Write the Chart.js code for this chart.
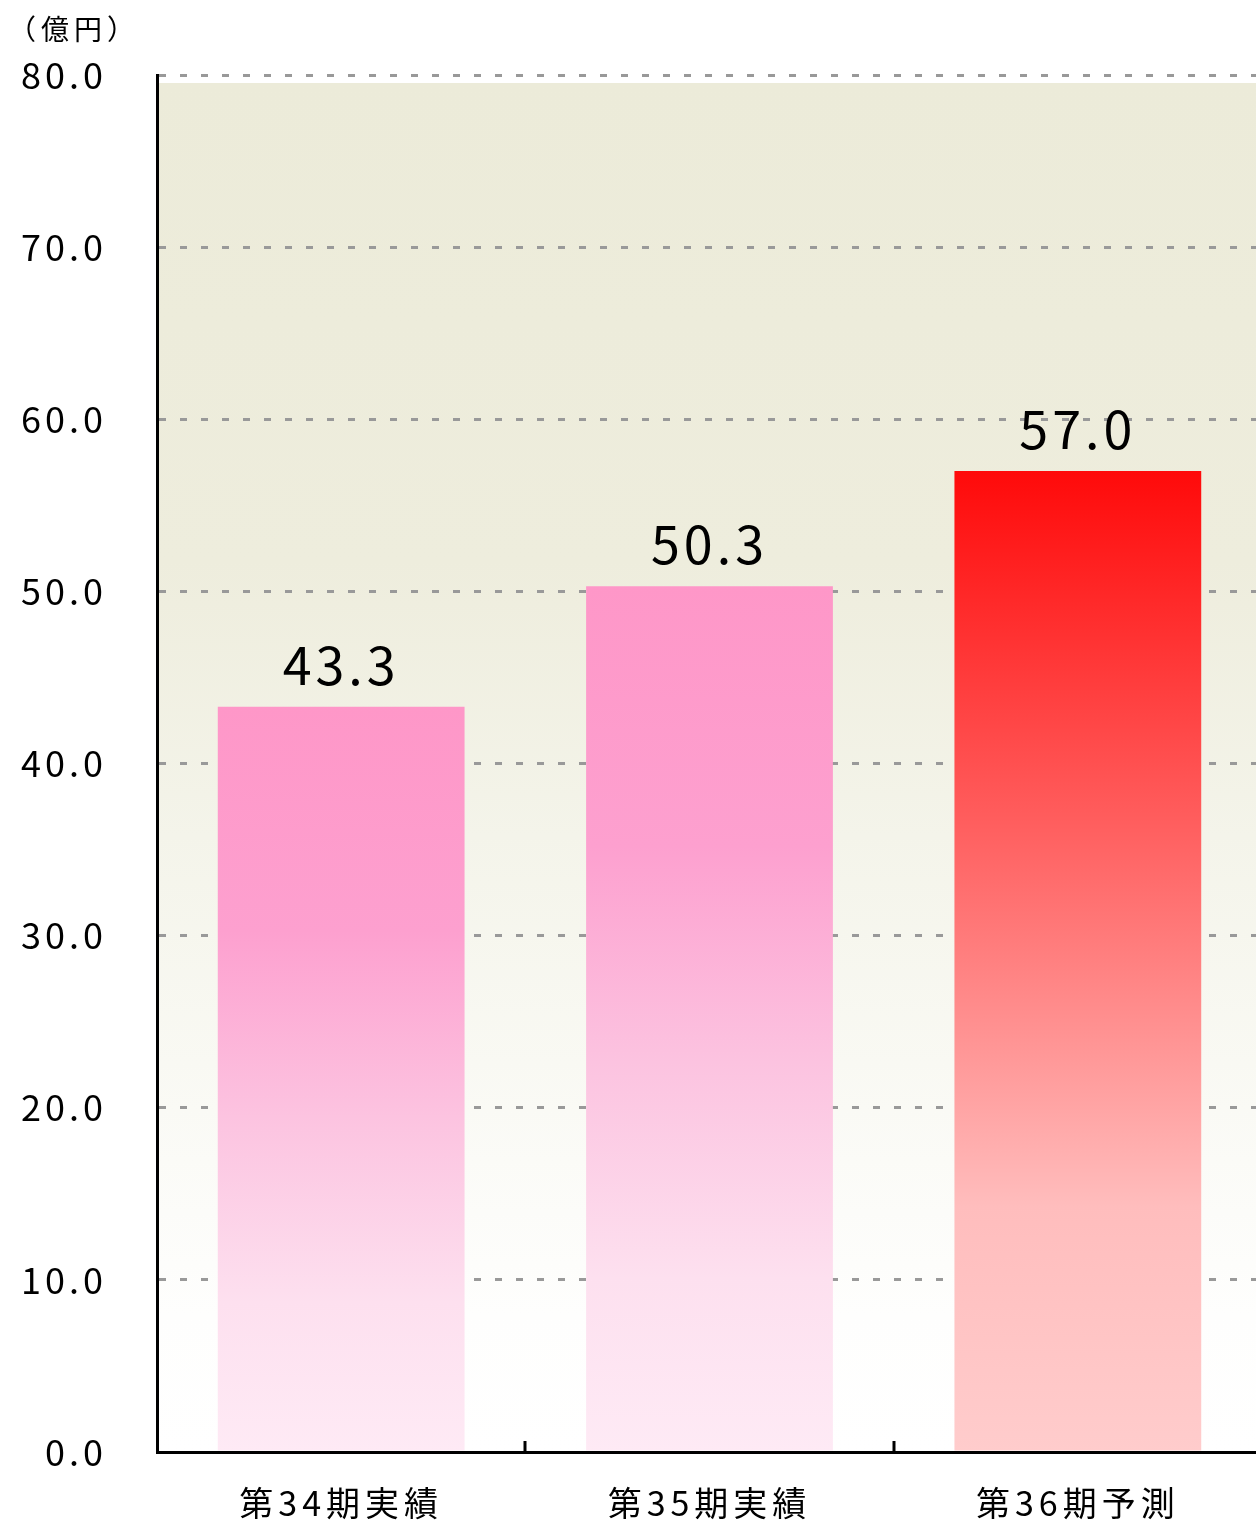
<!DOCTYPE html>
<html lang="ja">
<head>
<meta charset="utf-8">
<title>売上高推移</title>
<script src="https://cdn.jsdelivr.net/npm/chart.js@4.4.1/dist/chart.umd.min.js"></script>
<style>
  html, body { margin: 0; padding: 0; background: #fff; overflow: hidden; }
  #wrap { width: 1256px; height: 1526px; overflow: hidden; }
  canvas { display: block; }
</style>
</head>
<body>
<div id="wrap"><canvas id="salesChart" width="1262" height="1526"></canvas></div>
<script>
// ── DATA ──────────────────────────────────────
const categories = ['第34期実績', '第35期実績', '第36期予測'];
const salesValues = [43.3, 50.3, 57.0];
const yTicks = [0, 10, 20, 30, 40, 50, 60, 70, 80];
const unitLabel = '（億円）';

// ── STYLE ─────────────────────────────────────
const FONT = '"Noto Sans CJK JP", "Noto Sans", sans-serif';
const barStops = [
    [[0, '#fe97c8'], [0.3, '#fda0cf'], [0.55, '#fcc3e0'], [0.8, '#fde0ef'], [1, '#feeaf5']],
    [[0, '#fe97c8'], [0.3, '#fda0cf'], [0.55, '#fcc3e0'], [0.8, '#fde0ef'], [1, '#feeaf5']],
    [[0, '#ff0a0a'], [0.35, '#ff5c5c'], [0.75, '#ffbdbd'], [1, '#ffcccc']]
];
const bgStops = [[0, '#ecebd9'], [0.35, '#eeeddd'], [0.55, '#f4f4ea'], [0.75, '#fafaf5'], [0.9, '#fefefd'], [1, '#ffffff']];

function barGradient(ctx) {
    const chart = ctx.chart;
    const area = chart.chartArea;
    if (!area || ctx.type !== 'data') return '#fe97c8';
    const top = chart.scales.y.getPixelForValue(ctx.raw);
    const g = chart.ctx.createLinearGradient(0, top, 0, area.bottom);
    barStops[ctx.dataIndex].forEach(([p, c]) => g.addColorStop(p, c));
    return g;
}

// background, letter spacing per layer, value labels, inner ticks, unit
const decorPlugin = {
    id: 'decor',
    beforeDraw(chart) {
        const { ctx, chartArea: a } = chart;
        ctx.save();
        const g = ctx.createLinearGradient(0, a.top + 8, 0, a.bottom);
        bgStops.forEach(([p, c]) => g.addColorStop(p, c));
        ctx.fillStyle = g;
        ctx.fillRect(a.left, a.top + 8, a.right - a.left, a.bottom - a.top - 8);
        ctx.restore();
        ctx.letterSpacing = '4px';   // y tick labels
    },
    beforeDatasetsDraw(chart) {
        chart.ctx.letterSpacing = '0px';
    },
    afterDatasetsDraw(chart) {
        const { ctx } = chart;
        const meta = chart.getDatasetMeta(0);
        ctx.save();
        ctx.letterSpacing = '4px';
        ctx.font = `52px ${FONT}`;
        ctx.fillStyle = '#000';
        ctx.textAlign = 'center';
        ctx.textBaseline = 'alphabetic';
        meta.data.forEach((bar, i) => {
            ctx.fillText(salesValues[i].toFixed(1), bar.x, bar.y - 22);
        });
        ctx.restore();
        ctx.letterSpacing = '5px';   // x tick labels
    },
    afterDraw(chart) {
        const { ctx, chartArea: a, scales: { x } } = chart;
        ctx.letterSpacing = '0px';
        ctx.save();
        ctx.strokeStyle = '#000';
        ctx.lineWidth = 3;
        for (let i = 1; i < categories.length; i++) {
            const px = Math.round((x.getPixelForValue(i - 1) + x.getPixelForValue(i)) / 2);
            ctx.beginPath();
            ctx.moveTo(px, a.bottom);
            ctx.lineTo(px, a.bottom - 11);
            ctx.stroke();
        }
        ctx.font = `28px ${FONT}`;
        ctx.letterSpacing = '5px';
        ctx.fillStyle = '#000';
        ctx.textAlign = 'left';
        ctx.textBaseline = 'middle';
        ctx.fillText(unitLabel, 8, 29);
        ctx.restore();
    }
};

new Chart(document.getElementById('salesChart'), {
    type: 'bar',
    data: {
        labels: categories,
        datasets: [{
            data: salesValues,
            backgroundColor: barGradient,
            borderWidth: 0,
            categoryPercentage: 1,
            barPercentage: 0.67
        }]
    },
    options: {
        responsive: false,
        animation: false,
        devicePixelRatio: 1,
        layout: { padding: { top: 75, left: 0, right: 0, bottom: 0 } },
        plugins: { legend: { display: false }, tooltip: { enabled: false } },
        scales: {
            x: {
                afterFit: s => { s.height = 74; },
                grid: { display: false, drawTicks: false },
                border: { display: true, color: '#000', width: 3, z: 1 },
                ticks: { z: 1, color: '#000', padding: 31, font: { family: FONT, size: 34 } }
            },
            y: {
                min: 0,
                max: 80,
                afterFit: s => { s.width = 157; },
                afterBuildTicks: s => { s.ticks = yTicks.map(v => ({ value: v })); },
                grid: { color: '#999999', lineWidth: 3, drawTicks: false },
                border: { display: true, color: '#000', width: 3, dash: [7, 14] },
                ticks: {
                    color: '#000',
                    padding: 50,
                    font: { family: FONT, size: 36 },
                    callback: v => v.toFixed(1)
                }
            }
        }
    },
    plugins: [decorPlugin]
});
</script>
</body>
</html>
